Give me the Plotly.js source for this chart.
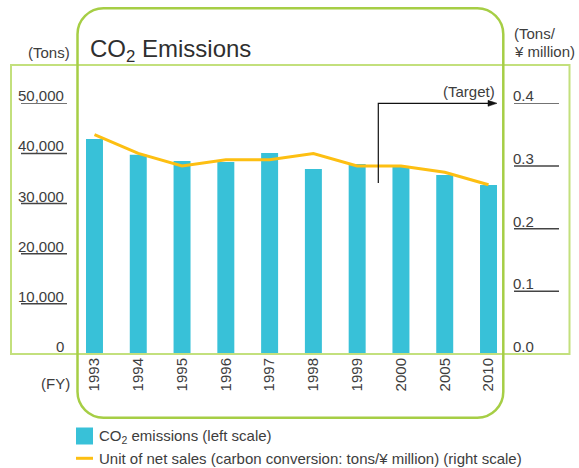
<!DOCTYPE html>
<html>
<head>
<meta charset="utf-8">
<script src="https://cdn.plot.ly/plotly-3.0.1.min.js"></script>
<style>html,body{margin:0;padding:0;background:#fff;}#chart{width:579px;height:468px;}</style>
</head>
<body>
<div id="chart"></div>
<script>
// ---- data ----
const years = ['1993','1994','1995','1996','1997','1998','1999','2000','2005','2010'];
const co2Emissions = [42900, 39750, 38500, 38300, 40100, 36900, 37900, 37400, 35700, 33700];
const unitNetSales = [0.35, 0.32, 0.30, 0.31, 0.31, 0.32, 0.30, 0.30, 0.29, 0.27];
const leftTicks = [0, 10000, 20000, 30000, 40000, 50000];
const leftTickText = ['0', '10,000', '20,000', '30,000', '40,000', '50,000'];
const rightTicks = [0, 0.1, 0.2, 0.3, 0.4];
const rightTickText = ['0.0', '0.1', '0.2', '0.3', '0.4'];
const seriesNames = ['CO<sub>2</sub> emissions (left scale)', 'Unit of net sales (carbon conversion: tons/¥ million) (right scale)'];

// ---- styling helpers ----
const W = 579, H = 468;
const px = x => x / W;
const py = y => 1 - y / H;
const FONT = "'Liberation Sans', Arial, sans-serif";
const FS = 15;
const TXT = '#3d3d3d';
const BAR = '#38C1D8';
const LINE = '#FDBF12';
const GREEN_LIGHT = '#C3E07D';
const GREEN_DARK = '#A6CE45';

const traces = [
  {type: 'bar', x: years, y: co2Emissions, name: seriesNames[0], marker: {color: BAR}, yaxis: 'y', hoverinfo: 'skip'},
  {type: 'scatter', mode: 'lines', x: years, y: unitNetSales, name: seriesNames[1], yaxis: 'y2', line: {color: LINE, width: 3}, hoverinfo: 'skip'}
];

const annotations = [];
const shapes = [];

leftTicks.forEach((v, i) => {
  annotations.push({xref: 'paper', yref: 'y', x: px(66), y: v, xanchor: 'right', yanchor: 'bottom', yshift: -3,
    text: leftTickText[i], showarrow: false, font: {family: FONT, size: FS, color: TXT}});
  if (v > 0) shapes.push({type: 'line', xref: 'paper', yref: 'y', x0: px(21), x1: px(67), y0: v, y1: v,
    line: {color: '#444', width: 1.5}});
});
rightTicks.forEach((v, i) => {
  annotations.push({xref: 'paper', yref: 'y2', x: px(511), y: v, xanchor: 'left', yanchor: 'bottom', yshift: -3,
    text: rightTickText[i], showarrow: false, font: {family: FONT, size: FS, color: TXT}});
  if (v > 0) shapes.push({type: 'line', xref: 'paper', yref: 'y2', x0: px(514), x1: px(559), y0: v, y1: v,
    line: {color: '#444', width: 1.5}});
});

// frames
shapes.push({type: 'rect', xref: 'paper', yref: 'paper', x0: px(11), x1: px(569.5), y0: py(354), y1: py(65),
  line: {color: GREEN_LIGHT, width: 2}, layer: 'above'});
(function () {
  const L = 77.5, R = 503.3, T = 8.3, B = 417.7, r = 26, k = 0.552 * r;
  const P = (x, y) => px(x) + ',' + py(y);
  const d = 'M' + P(L + r, T) + ' L' + P(R - r, T) +
    ' C' + P(R - r + k, T) + ' ' + P(R, T + r - k) + ' ' + P(R, T + r) +
    ' L' + P(R, B - r) +
    ' C' + P(R, B - r + k) + ' ' + P(R - r + k, B) + ' ' + P(R - r, B) +
    ' L' + P(L + r, B) +
    ' C' + P(L + r - k, B) + ' ' + P(L, B - r + k) + ' ' + P(L, B - r) +
    ' L' + P(L, T + r) +
    ' C' + P(L, T + r - k) + ' ' + P(L + r - k, T) + ' ' + P(L + r, T) + ' Z';
  shapes.push({type: 'path', xref: 'paper', yref: 'paper', path: d, line: {color: GREEN_DARK, width: 2.5}, layer: 'above'});
})();

// target marker: elbow line + arrowhead
(function () {
  const x0 = 378.3, yTop = 103.3, yBot = 183, xHead = 497;
  const P = (x, y) => px(x) + ',' + py(y);
  shapes.push({type: 'path', xref: 'paper', yref: 'paper',
    path: 'M' + P(x0, yBot) + ' L' + P(x0, yTop) + ' L' + P(xHead - 6, yTop),
    line: {color: '#111', width: 1.2}});
  shapes.push({type: 'path', xref: 'paper', yref: 'paper',
    path: 'M' + P(xHead, yTop) + ' L' + P(xHead - 9, yTop - 3) + ' L' + P(xHead - 9, yTop + 3) + ' Z',
    fillcolor: '#111', line: {color: '#111', width: 0.5}});
})();
annotations.push({xref: 'paper', yref: 'paper', x: px(497), y: py(91.7), xanchor: 'right', yanchor: 'middle',
  text: '(Target)', showarrow: false, font: {family: FONT, size: FS, color: TXT}});

// unit labels
annotations.push({xref: 'paper', yref: 'paper', x: px(72), y: py(52.5), xanchor: 'right', yanchor: 'middle',
  text: '(Tons)', showarrow: false, font: {family: FONT, size: FS, color: TXT}});
annotations.push({xref: 'paper', yref: 'paper', x: px(512), y: py(33.3), xanchor: 'left', yanchor: 'middle',
  text: '(Tons/', showarrow: false, font: {family: FONT, size: FS, color: TXT}});
annotations.push({xref: 'paper', yref: 'paper', x: px(512), y: py(51.7), xanchor: 'left', yanchor: 'middle',
  text: '¥ million)', showarrow: false, font: {family: FONT, size: FS, color: TXT}});
annotations.push({xref: 'paper', yref: 'paper', x: px(72), y: py(383), xanchor: 'right', yanchor: 'middle',
  text: '(FY)', showarrow: false, font: {family: FONT, size: FS, color: TXT}});

// legend (custom)
shapes.push({type: 'rect', xref: 'paper', yref: 'paper', x0: px(76), x1: px(93), y0: py(444.5), y1: py(427.5),
  fillcolor: BAR, line: {width: 0}});
shapes.push({type: 'line', xref: 'paper', yref: 'paper', x0: px(76), x1: px(93), y0: py(458.3), y1: py(458.3),
  line: {color: LINE, width: 3}});
annotations.push({xref: 'paper', yref: 'paper', x: px(97), y: py(436), xanchor: 'left', yanchor: 'middle',
  text: seriesNames[0], showarrow: false, font: {family: FONT, size: FS, color: TXT}});
annotations.push({xref: 'paper', yref: 'paper', x: px(97), y: py(458.5), xanchor: 'left', yanchor: 'middle',
  text: seriesNames[1], showarrow: false, font: {family: FONT, size: FS, color: TXT}});

const layout = {
  width: W, height: H,
  margin: {l: 0, r: 0, t: 0, b: 0},
  paper_bgcolor: '#fff', plot_bgcolor: 'rgba(0,0,0,0)',
  showlegend: false,
  title: {text: 'CO<sub>2</sub> Emissions', x: px(90), xanchor: 'left', xref: 'paper', y: py(49), yanchor: 'middle', yref: 'paper',
    font: {family: FONT, size: 24, color: '#2f2f2f'}},
  bargap: 0.612,
  xaxis: {type: 'category', domain: [px(72.6), px(510.4)], range: [-0.5, 9.5], showgrid: false, zeroline: false,
    showline: false, ticks: '', tickangle: -90, tickfont: {family: FONT, size: FS, color: TXT}, fixedrange: true, automargin: false},
  yaxis: {domain: [py(354), py(103.3)], range: [0, 50000], showgrid: false, zeroline: false, showline: false,
    showticklabels: false, ticks: '', fixedrange: true, automargin: false},
  yaxis2: {overlaying: 'y', side: 'right', range: [0, 0.4], showgrid: false, zeroline: false, showline: false,
    showticklabels: false, ticks: '', fixedrange: true, automargin: false},
  shapes: shapes,
  annotations: annotations
};

Plotly.newPlot('chart', traces, layout, {displayModeBar: false, staticPlot: true});
</script>
</body>
</html>
